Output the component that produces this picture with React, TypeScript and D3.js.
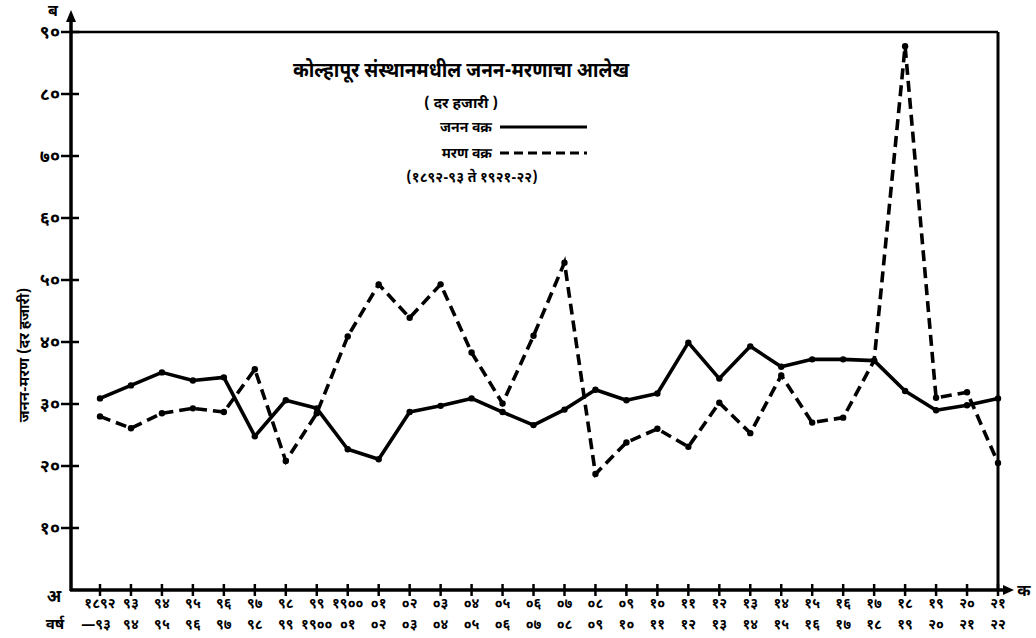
import React, { useEffect, useRef } from "react";
import * as d3 from "d3";

// वर्ष (1892-93 ते 1921-22)
const yearTop = ["१८९२", "९३", "९४", "९५", "९६", "९७", "९८", "९९", "१९००", "०१", "०२", "०३", "०४", "०५", "०६",
  "०७", "०८", "०९", "१०", "११", "१२", "१३", "१४", "१५", "१६", "१७", "१८", "१९", "२०", "२१"];
const yearBottom = ["—९३", "९४", "९५", "९६", "९७", "९८", "९९", "१९००", "०१", "०२", "०३", "०४", "०५", "०६", "०७",
  "०८", "०९", "१०", "११", "१२", "१३", "१४", "१५", "१६", "१७", "१८", "१९", "२०", "२१", "२२"];

// जनन वक्र (per thousand)
const birthRate = [30.9, 33.0, 35.1, 33.8, 34.3, 24.8, 30.6, 29.3, 22.7, 21.1, 28.7, 29.7, 30.9, 28.7, 26.6,
  29.1, 32.3, 30.6, 31.7, 39.9, 34.1, 39.3, 36.0, 37.2, 37.2, 37.0, 32.1, 29.0, 29.8, 30.9];
// मरण वक्र (per thousand)
const deathRate = [28.0, 26.1, 28.5, 29.3, 28.7, 35.6, 20.8, 28.5, 40.9, 49.3, 43.9, 49.3, 38.3, 30.1, 41.0,
  52.8, 18.7, 23.8, 26.0, 23.1, 30.2, 25.3, 34.6, 27.0, 27.8, 37.0, 87.7, 31.0, 31.9, 20.5];

const yTicks = [10, 20, 30, 40, 50, 60, 70, 80, 90];
const yTickLabels = ["१०", "२०", "३०", "४०", "५०", "६०", "७०", "८०", "९०"];

const FONT = "'Noto Sans Devanagari', 'Noto Serif Devanagari', 'Lohit Devanagari', 'Noto Sans', sans-serif";

export default function App() {
  const svgRef = useRef<SVGSVGElement | null>(null);

  useEffect(() => {
    const width = 1036;
    const height = 638;
    const x0 = 71;
    const y0 = 590;
    const yTop = 32;
    const xRight = 998;

    const svg = d3.select(svgRef.current)
      .attr("width", width)
      .attr("height", height)
      .style("background", "#fff")
      .style("font-family", FONT);
    svg.selectAll("*").remove();

    const idx = d3.range(yearTop.length);
    const xScale = d3.scalePoint<number>()
      .domain(idx)
      .range([100, xRight]);
    const yScale = d3.scaleLinear()
      .domain([0, 90])
      .range([y0, yTop]);

    // frame: top + right border
    svg.append("line")
      .attr("x1", x0).attr("x2", xRight)
      .attr("y1", yTop).attr("y2", yTop)
      .attr("stroke", "#000").attr("stroke-width", 2.5);
    svg.append("line")
      .attr("x1", xRight).attr("x2", xRight)
      .attr("y1", yTop).attr("y2", y0)
      .attr("stroke", "#000").attr("stroke-width", 3);

    // y axis with arrow
    svg.append("line")
      .attr("x1", x0).attr("x2", x0)
      .attr("y1", y0 + 1).attr("y2", 18)
      .attr("stroke", "#000").attr("stroke-width", 3.5);
    svg.append("path")
      .attr("d", `M${x0 - 5},${22} L${x0},${10} L${x0 + 5},${22} Z`)
      .attr("fill", "#000");
    svg.append("text")
      .attr("x", 53).attr("y", 16)
      .attr("text-anchor", "middle")
      .attr("font-size", 16).attr("font-weight", "bold")
      .text("ब");

    // x axis with arrow
    svg.append("line")
      .attr("x1", x0 - 1).attr("x2", 1006)
      .attr("y1", y0).attr("y2", y0)
      .attr("stroke", "#000").attr("stroke-width", 3.5);
    svg.append("path")
      .attr("d", `M${1003},${y0 - 5} L${1014},${y0} L${1003},${y0 + 5} Z`)
      .attr("fill", "#000");
    svg.append("text")
      .attr("x", 1024).attr("y", y0 + 6)
      .attr("text-anchor", "middle")
      .attr("font-size", 16).attr("font-weight", "bold")
      .text("क");

    // origin
    svg.append("text")
      .attr("x", 54).attr("y", y0 + 12)
      .attr("text-anchor", "middle")
      .attr("font-size", 17).attr("font-weight", "bold")
      .text("अ");

    // y ticks
    const yg = svg.append("g");
    yg.selectAll("line")
      .data(yTicks)
      .join("line")
      .attr("x1", x0 - 10).attr("x2", x0 + 8)
      .attr("y1", d => yScale(d)).attr("y2", d => yScale(d))
      .attr("stroke", "#000").attr("stroke-width", 2.5);
    yg.selectAll("text")
      .data(yTicks)
      .join("text")
      .attr("x", x0 - 11)
      .attr("y", d => yScale(d) + 6)
      .attr("text-anchor", "end")
      .attr("font-size", 18).attr("font-weight", "bold")
      .text((d, i) => yTickLabels[i]);

    // y title
    svg.append("text")
      .attr("transform", `translate(29, 355) rotate(-90)`)
      .attr("text-anchor", "middle")
      .attr("font-size", 15).attr("font-weight", "bold")
      .text("जनन-मरण (दर हजारी)");

    // x ticks + labels
    const xg = svg.append("g");
    xg.selectAll("line")
      .data(idx)
      .join("line")
      .attr("x1", d => xScale(d) as number).attr("x2", d => xScale(d) as number)
      .attr("y1", y0 - 6).attr("y2", y0 + 6)
      .attr("stroke", "#000").attr("stroke-width", 2.5);
    xg.selectAll("text.top")
      .data(idx)
      .join("text")
      .attr("class", "top")
      .attr("x", d => xScale(d) as number)
      .attr("y", 608)
      .attr("text-anchor", "middle")
      .attr("font-size", 14).attr("font-weight", "bold")
      .text(d => yearTop[d]);
    xg.selectAll("text.bottom")
      .data(idx)
      .join("text")
      .attr("class", "bottom")
      .attr("x", d => (xScale(d) as number) + (d === 0 ? -4 : 0))
      .attr("y", 629)
      .attr("text-anchor", "middle")
      .attr("font-size", 14).attr("font-weight", "bold")
      .text(d => yearBottom[d]);
    svg.append("text")
      .attr("x", 55).attr("y", 629)
      .attr("text-anchor", "middle")
      .attr("font-size", 15).attr("font-weight", "bold")
      .text("वर्ष");

    // lines
    const line = d3.line<number>()
      .x((d, i) => xScale(i) as number)
      .y(d => yScale(d));

    svg.append("path")
      .datum(birthRate)
      .attr("d", line)
      .attr("fill", "none")
      .attr("stroke", "#000")
      .attr("stroke-width", 3.6)
      .attr("stroke-linejoin", "round");
    svg.append("path")
      .datum(deathRate)
      .attr("d", line)
      .attr("fill", "none")
      .attr("stroke", "#000")
      .attr("stroke-width", 3.6)
      .attr("stroke-dasharray", "11,6");

    svg.append("g").selectAll("circle")
      .data(birthRate)
      .join("circle")
      .attr("cx", (d, i) => xScale(i) as number)
      .attr("cy", d => yScale(d))
      .attr("r", 3.2)
      .attr("fill", "#000");
    svg.append("g").selectAll("circle")
      .data(deathRate)
      .join("circle")
      .attr("cx", (d, i) => xScale(i) as number)
      .attr("cy", d => yScale(d))
      .attr("r", 3.2)
      .attr("fill", "#000");

    // title + legend
    svg.append("text")
      .attr("x", 461).attr("y", 77)
      .attr("text-anchor", "middle")
      .attr("font-size", 21).attr("font-weight", "bold")
      .attr("textLength", 336)
      .attr("lengthAdjust", "spacingAndGlyphs")
      .text("कोल्हापूर संस्थानमधील जनन-मरणाचा आलेख");
    svg.append("text")
      .attr("x", 461).attr("y", 108)
      .attr("text-anchor", "middle")
      .attr("font-size", 15).attr("font-weight", "bold")
      .text("( दर हजारी )");

    svg.append("text")
      .attr("x", 492).attr("y", 132)
      .attr("text-anchor", "end")
      .attr("font-size", 14).attr("font-weight", "bold")
      .text("जनन वक्र");
    svg.append("line")
      .attr("x1", 500).attr("x2", 587)
      .attr("y1", 127).attr("y2", 127)
      .attr("stroke", "#000").attr("stroke-width", 3);

    svg.append("text")
      .attr("x", 492).attr("y", 158)
      .attr("text-anchor", "end")
      .attr("font-size", 14).attr("font-weight", "bold")
      .text("मरण वक्र");
    svg.append("line")
      .attr("x1", 500).attr("x2", 587)
      .attr("y1", 153).attr("y2", 153)
      .attr("stroke", "#000").attr("stroke-width", 3)
      .attr("stroke-dasharray", "9,5");

    svg.append("text")
      .attr("x", 472).attr("y", 182)
      .attr("text-anchor", "middle")
      .attr("font-size", 14).attr("font-weight", "bold")
      .text("(१८९२-९३ ते १९२१-२२)");
  }, []);

  return (
    <div style={{ position: "absolute", left: 0, top: 0 }}>
      <svg ref={svgRef}></svg>
    </div>
  );
}
